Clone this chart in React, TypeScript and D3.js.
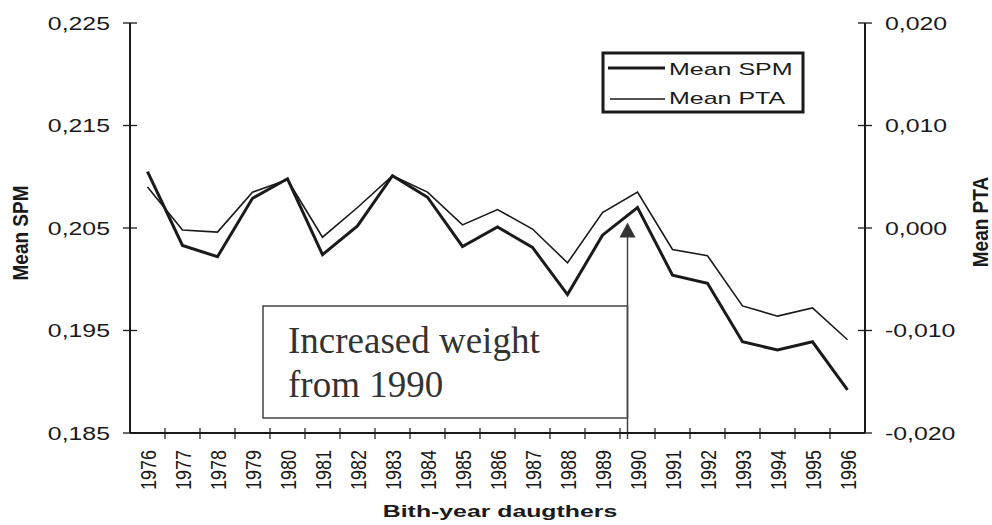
import React from "react";
import * as d3 from "d3";

const years = ["1976","1977","1978","1979","1980","1981","1982","1983","1984","1985","1986","1987","1988","1989","1990","1991","1992","1993","1994","1995","1996"];
const meanSPM = [0.2105,0.2033,0.2022,0.2079,0.2098,0.2024,0.2052,0.2101,0.2080,0.2032,0.2051,0.2031,0.1985,0.2043,0.2070,0.2004,0.1996,0.1939,0.1931,0.1939,0.1892];
const meanPTA = [0.0040,-0.0002,-0.0004,0.0035,0.0047,-0.0009,0.0020,0.0051,0.0035,0.0003,0.0018,-0.0001,-0.0034,0.0015,0.0035,-0.0021,-0.0027,-0.0076,-0.0086,-0.0078,-0.0109];
const leftTicks = [0.185,0.195,0.205,0.215,0.225];
const rightTicks = [-0.02,-0.01,0,0.01,0.02];
const seriesNames = ["Mean SPM","Mean PTA"];

const W = 992, H = 525;
const L = 130, R = 865, T = 23, B = 433;
const FONT = "'Liberation Sans', Arial, sans-serif";
const INK = "#1a1a1a";

function fmt(v: number) {
  return d3.format(".3f")(v).replace(".", ",").replace("−", "-");
}

function SText({x, y, sx = 1, anchor = "start", size = 18, weight = "normal", children}: any) {
  return (
    <text transform={`translate(${x},${y}) scale(${sx},1)`} textAnchor={anchor}
      fontFamily={FONT} fontSize={size} fontWeight={weight} fill={INK}>{children}</text>
  );
}

export default function App() {
  const x = d3.scaleBand<string>().domain(years).range([L, R]).padding(0);
  const bw = x.bandwidth();
  const cx = (y: string) => (x(y) as number) + bw / 2;
  const yL = d3.scaleLinear().domain([0.185, 0.225]).range([B, T]);
  const yR = d3.scaleLinear().domain([-0.02, 0.02]).range([B, T]);

  const lineL = d3.line<number>().x((_, i) => cx(years[i])).y(d => yL(d));
  const lineR = d3.line<number>().x((_, i) => cx(years[i])).y(d => yR(d));

  const i1990 = years.indexOf("1990");
  const arrowX = cx("1990") - 10;
  const arrowTip = yL(meanSPM[i1990]) + 15;
  const boxL = 263, boxT = 306, boxB = 418;

  return (
    <svg width={W} height={H} style={{position: "absolute", left: 0, top: 0, background: "#fff"}}>
      <rect x={0} y={0} width={W} height={H} fill="#fff" />

      {/* annotation box + arrow */}
      <rect x={boxL} y={boxT} width={arrowX - boxL} height={boxB - boxT} fill="#fff" stroke="#444" strokeWidth={1.5} />
      <line x1={arrowX} x2={arrowX} y1={arrowTip + 12} y2={B + 6} stroke="#444" strokeWidth={1.5} />
      <path d={`M${arrowX},${arrowTip} L${arrowX - 8},${arrowTip + 15} L${arrowX + 8},${arrowTip + 15} Z`} fill="#333" />
      <text x={288} y={353} fontFamily="'Liberation Serif', 'Times New Roman', serif" fontSize={37} fill="#333">Increased weight</text>
      <text x={288} y={397} fontFamily="'Liberation Serif', 'Times New Roman', serif" fontSize={37} fill="#333">from 1990</text>

      {/* lines */}
      <path d={lineR(meanPTA) || ""} fill="none" stroke={INK} strokeWidth={1.6} strokeLinejoin="miter" />
      <path d={lineL(meanSPM) || ""} fill="none" stroke={INK} strokeWidth={3} strokeLinejoin="miter" />

      {/* left axis */}
      <line x1={L} x2={L} y1={T} y2={B} stroke={INK} strokeWidth={2} />
      {leftTicks.map(t => (
        <g key={"l" + t}>
          <line x1={L - 7} x2={L + 7} y1={yL(t)} y2={yL(t)} stroke={INK} strokeWidth={1.3} />
          <SText x={110} y={yL(t) + 6.5} sx={1.38} anchor="end">{fmt(t)}</SText>
        </g>
      ))}
      {/* right axis */}
      <line x1={R} x2={R} y1={T} y2={B} stroke={INK} strokeWidth={2} />
      {rightTicks.map(t => (
        <g key={"r" + t}>
          <line x1={R - 7} x2={R + 7} y1={yR(t)} y2={yR(t)} stroke={INK} strokeWidth={1.3} />
          <SText x={885} y={yR(t) + 6.5} sx={1.38} anchor="start">{fmt(t)}</SText>
        </g>
      ))}
      {/* x axis */}
      <line x1={L} x2={R} y1={B} y2={B} stroke={INK} strokeWidth={2} />
      {years.map((yr, i) => (
        <g key={yr}>
          {i > 0 && <line x1={x(yr) as number} x2={x(yr) as number} y1={B - 5} y2={B + 6} stroke={INK} strokeWidth={1.2} />}
          <text transform={`translate(${cx(yr)},${450}) scale(1.25,1) rotate(-90)`} textAnchor="end" dy="0.36em"
            fontFamily={FONT} fontSize={18} fill={INK}>{yr}</text>
        </g>
      ))}

      {/* axis titles */}
      <SText x={500} y={517} sx={1.46} anchor="middle" size={17} weight="bold">Bith-year daugthers</SText>
      <text transform={`translate(20,233) scale(1.15,1) rotate(-90)`} textAnchor="middle" dy="0.36em"
        fontFamily={FONT} fontSize={19} fontWeight="bold" fill={INK}>Mean SPM</text>
      <text transform={`translate(980,222) scale(1.15,1) rotate(-90)`} textAnchor="middle" dy="0.36em"
        fontFamily={FONT} fontSize={19} fontWeight="bold" fill={INK}>Mean PTA</text>

      {/* legend */}
      <rect x={603} y={53} width={200} height={59} fill="#fff" stroke={INK} strokeWidth={3} />
      <line x1={608} x2={665} y1={68} y2={68} stroke={INK} strokeWidth={3} />
      <line x1={610} x2={665} y1={99} y2={99} stroke={INK} strokeWidth={1.6} />
      <SText x={669} y={75} sx={1.47} size={17}>{seriesNames[0]}</SText>
      <SText x={669} y={104} sx={1.47} size={17}>{seriesNames[1]}</SText>
    </svg>
  );
}
